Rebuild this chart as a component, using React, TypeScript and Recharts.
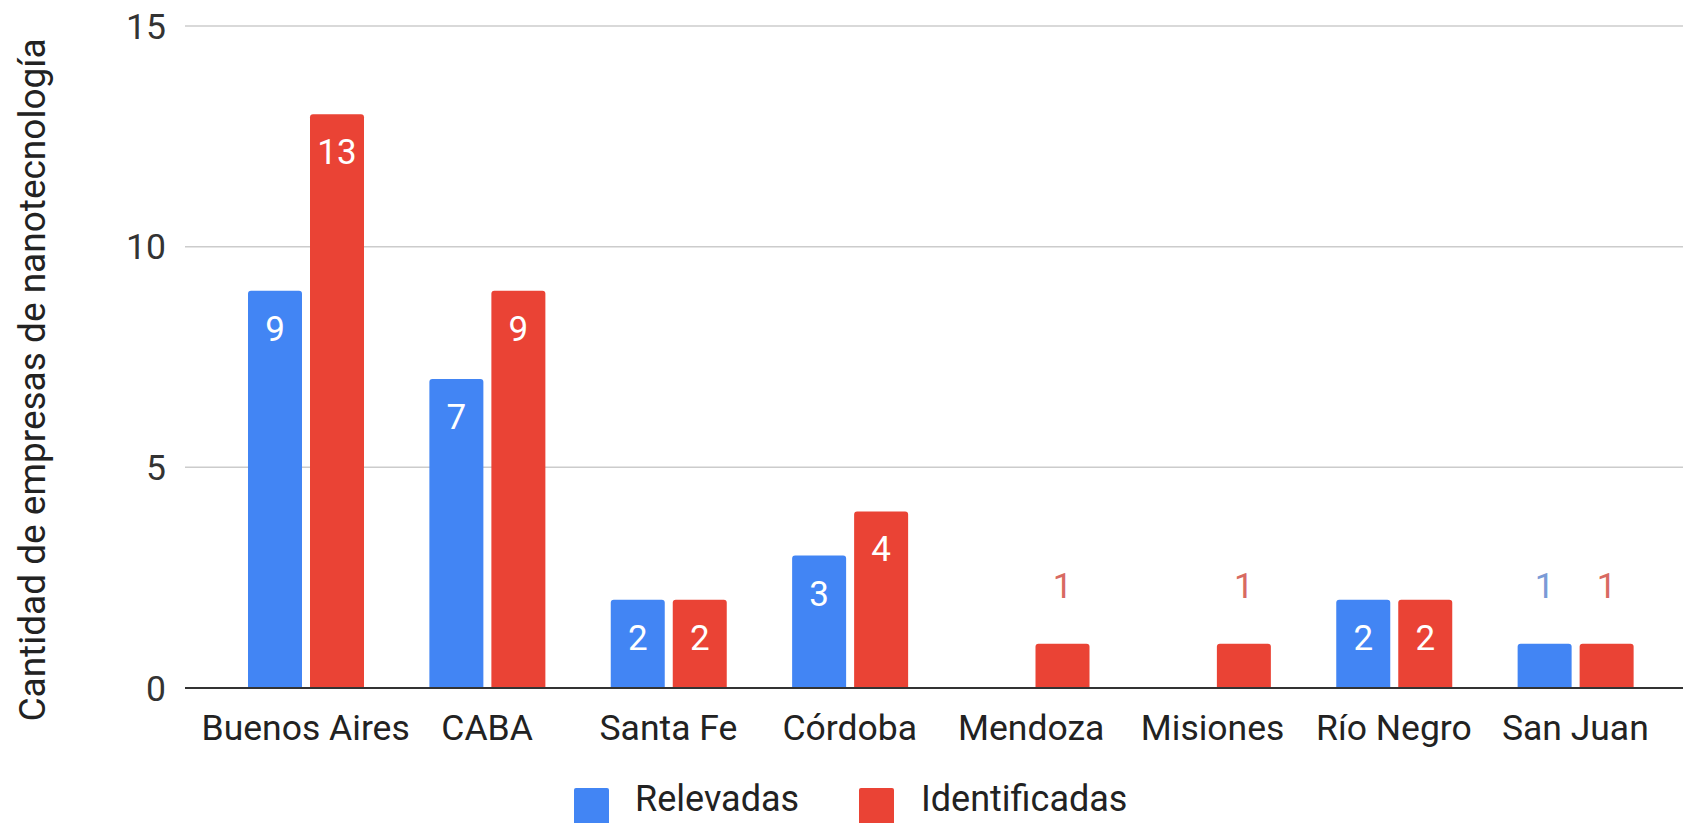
import React from "react";
import { Bar, BarChart, CartesianGrid, Label, LabelList, XAxis, YAxis } from "recharts";

const categories = ["Buenos Aires", "CABA", "Santa Fe", "Córdoba", "Mendoza", "Misiones", "Río Negro", "San Juan"];
const relevadas = [9, 7, 2, 3, null, null, 2, 1];
const identificadas = [13, 9, 2, 4, 1, 1, 2, 1];
const yTicks = [0, 5, 10, 15];

const series = [
  { key: "relevadas", name: "Relevadas", color: "#4285F4", outside: "#7a9ad6" },
  { key: "identificadas", name: "Identificadas", color: "#EA4335", outside: "#d86a62" }
];

const data = categories.map((c, i) => ({
  name: c,
  relevadas: relevadas[i],
  identificadas: identificadas[i]
}));

const FONT = "Roboto, 'Noto Sans', sans-serif";

// value labels: white inside the bar when it fits, coloured above it when it doesn't
function valueLabel(outsideColor: string) {
  return (props: any) => {
    const { x, y, width, value } = props;
    if (value == null || value === 0) return null;
    const cx = Number(x) + Number(width) / 2;
    const top = Number(y);
    const inside = value >= 2;
    return (
      <text
        x={cx}
        y={inside ? top + 50 : top - 46}
        textAnchor="middle"
        fontFamily={FONT}
        fontSize={35}
        fill={inside ? "#ffffff" : outsideColor}
      >
        {value}
      </text>
    );
  };
}

export default function App() {
  return (
    <div style={{ position: "absolute", left: 0, top: 0, width: 1683, height: 823, background: "#fff", overflow: "hidden" }}>
      <BarChart
        width={1683}
        height={823}
        data={data}
        margin={{ top: 26, right: 0, bottom: 35, left: 0 }}
        barSize={54}
        barGap={8}
      >
        <CartesianGrid vertical={false} stroke="#cccccc" strokeWidth={1.5} />
        <XAxis
          dataKey="name"
          height={100}
          padding={{ left: 30, right: 17 }}
          tickLine={false}
          tickSize={0}
          tickMargin={27}
          axisLine={{ stroke: "#333333", strokeWidth: 2 }}
          tick={{ fontFamily: FONT, fontSize: 35.5, fill: "#222222" }}
          interval={0}
        />
        <YAxis
          width={185}
          domain={[0, 15]}
          ticks={yTicks}
          tickLine={false}
          axisLine={false}
          tickSize={0}
          tickMargin={19}
          tick={{ fontFamily: FONT, fontSize: 35.5, fill: "#333333" }}
        >
          <Label
            content={() => (
              <text
                transform="rotate(-90)"
                x={-380}
                y={45}
                textAnchor="middle"
                fontFamily={FONT}
                fontSize={37}
                fill="#222222"
              >
                Cantidad de empresas de nanotecnología
              </text>
            )}
          />
        </YAxis>
        {series.map((s) => (
          <Bar key={s.key} dataKey={s.key} name={s.name} fill={s.color} radius={[3, 3, 0, 0]} isAnimationActive={false}>
            <LabelList dataKey={s.key} content={valueLabel(s.outside)} />
          </Bar>
        ))}
      </BarChart>
      {series.map((s, i) => (
        <div key={s.key} style={{ position: "absolute", top: 784, left: i === 0 ? 574 : 859, display: "flex", alignItems: "flex-start" }}>
          <div style={{ width: 35, height: 39, marginTop: 4, background: s.color, borderRadius: 2 }} />
          <div style={{ marginLeft: i === 0 ? 26 : 27, fontFamily: FONT, fontSize: 36, lineHeight: "30px", color: "#222" }}>{s.name}</div>
        </div>
      ))}
    </div>
  );
}
